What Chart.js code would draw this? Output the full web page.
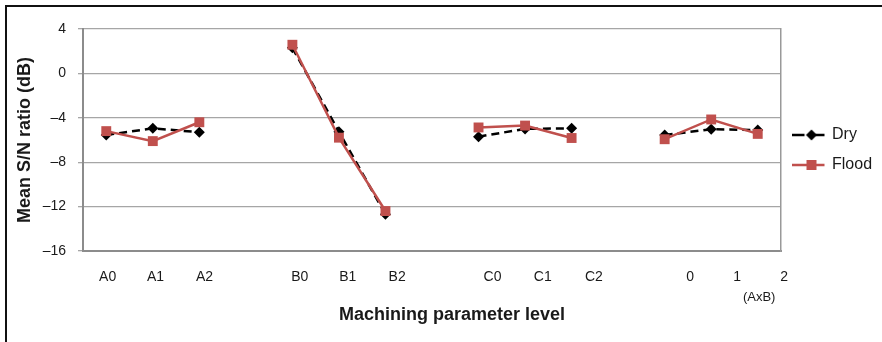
<!DOCTYPE html>
<html>
<head>
<meta charset="utf-8">
<script src="https://cdn.jsdelivr.net/npm/chart.js@4.4.1/dist/chart.umd.min.js"></script>
<style>
  html, body { margin: 0; padding: 0; background: #fff; }
  #wrap { position: relative; width: 882px; height: 342px; overflow: hidden; }
  #frame { position: absolute; left: 5px; top: 5px; width: 900px; height: 360px;
           border-top: 2px solid #111; border-left: 2px solid #111; pointer-events: none; }
</style>
</head>
<body>
<div id="wrap">
  <canvas id="sn" width="882" height="342"></canvas>
  <div id="frame"></div>
</div>
<script>
// factor levels, and the slot each one sits in on the x axis (gaps between factors)
const levels = ["A0", "A1", "A2", "B0", "B1", "B2", "C0", "C1", "C2", "AxB0", "AxB1", "AxB2"];
const levelSlot = [0, 1, 2, 4, 5, 6, 8, 9, 10, 12, 13, 14];
const dry = [-5.55, -4.95, -5.3, 2.3, -5.25, -12.7, -5.7, -5.0, -4.95, -5.55, -5.03, -5.1];
const flood = [-5.2, -6.1, -4.4, 2.58, -5.79, -12.4, -4.87, -4.7, -5.82, -5.93, -4.15, -5.45];

// x tick labels (hand placed in the original, a bit off the points)
const tickText = ["A0", "A1", "A2", "B0", "B1", "B2", "C0", "C1", "C2", "0", "1", "(AxB)", "2"];
const tickSlot = [0.03, 1.06, 2.11, 4.16, 5.19, 6.25, 8.3, 9.38, 10.48, 12.55, 13.56, 14.03, 14.57];

const yTicks = [-16, -12, -8, -4, 0, 4];

const dryCol = "#000000";
const floodCol = "#c0504d";
const textCol = "#1a1a1a";

Chart.defaults.font.family = "'Liberation Sans', Arial, Helvetica, sans-serif";

function toPoints(values) {
    const pts = [];
    for (let s = 0; s <= 14; s++) {
        const i = levelSlot.indexOf(s);
        pts.push({ x: s, y: i >= 0 ? values[i] : null });
    }
    return pts;
}

// little line+marker pictures for the legend
function makeIcon(color, shape, dashed) {
    const c = document.createElement("canvas");
    c.width = 36;
    c.height = 14;
    const g = c.getContext("2d");
    g.strokeStyle = color;
    g.fillStyle = color;
    g.lineWidth = 2.5;
    g.beginPath();
    if (dashed) {
        g.moveTo(0, 7); g.lineTo(13, 7);
        g.moveTo(24, 7); g.lineTo(33, 7);
    } else {
        g.moveTo(0, 7); g.lineTo(33, 7);
    }
    g.stroke();
    if (shape === "diamond") {
        g.beginPath();
        g.moveTo(20, 1.5); g.lineTo(25.5, 7); g.lineTo(20, 12.5); g.lineTo(14.5, 7);
        g.closePath();
        g.fill();
    } else {
        g.fillRect(15, 2, 10, 10);
    }
    return c;
}
const icons = [makeIcon(dryCol, "diamond", true), makeIcon(floodCol, "square", false)];

const ctx = document.getElementById("sn").getContext("2d");
const chart = new Chart(ctx, {
    type: "line",
    data: {
        datasets: [
            {
                label: "Dry",
                data: toPoints(dry),
                borderColor: dryCol,
                backgroundColor: dryCol,
                borderWidth: 2.5,
                borderDash: [8, 5],
                pointStyle: "rectRot",
                pointRadius: 5.5,
                pointBorderWidth: 0,
                tension: 0,
                spanGaps: false,
                order: 2,
            },
            {
                label: "Flood",
                data: toPoints(flood),
                borderColor: floodCol,
                backgroundColor: floodCol,
                borderWidth: 2.5,
                pointStyle: "rect",
                pointRadius: 7,
                pointBorderWidth: 0,
                tension: 0,
                spanGaps: false,
                order: 1,
            },
        ],
    },
    options: {
        responsive: false,
        animation: false,
        layout: { padding: { left: 22, top: 29, right: 0, bottom: 0 } },
        plugins: {
            tooltip: { enabled: false },
            title: {
                display: true,
                position: "bottom",
                text: "Machining parameter level",
                color: textCol,
                font: { size: 18, weight: "bold", lineHeight: 1 },
                padding: { top: -6, bottom: 18 },
            },
            legend: {
                position: "right",
                fullSize: false,
                maxWidth: 101,
                align: "center",
                title: { display: true, text: "", font: { size: 10, lineHeight: 2 }, padding: 0 },
                labels: {
                    usePointStyle: true,
                    pointStyleWidth: 29,
                    padding: 14,
                    color: textCol,
                    font: { size: 16 },
                    generateLabels: (c) => c.data.datasets.map((ds, i) => ({
                        text: ds.label,
                        pointStyle: icons[i],
                        datasetIndex: i,
                        hidden: false,
                        fontColor: textCol,
                        lineWidth: 0,
                        strokeStyle: "transparent",
                        fillStyle: "transparent",
                    })),
                },
            },
        },
        scales: {
            x: {
                type: "linear",
                min: -0.5,
                max: 14.5,
                grid: { display: false, drawTicks: false },
                border: { color: "#8c8c8c", width: 2 },
                afterBuildTicks: (s) => { s.ticks = tickSlot.map((v) => ({ value: v })); },
                afterFit: (s) => { s.height = 61; },
                ticks: {
                    autoSkip: false,
                    maxRotation: 0,
                    padding: 18,
                    color: textCol,
                    font: (c) => tickText[c.index] === "(AxB)" ? { size: 13, lineHeight: 1.45 } : { size: 14 },
                    callback: (v, i) => tickText[i] === "(AxB)" ? ["", "(AxB)"] : tickText[i],
                },
            },
            y: {
                min: -16,
                max: 4,
                afterBuildTicks: (s) => { s.ticks = yTicks.map((v) => ({ value: v })); },
                afterFit: (s) => { s.width = 61; },
                ticks: {
                    padding: 12,
                    color: textCol,
                    font: { size: 14 },
                    callback: (v) => String(v).replace("-", "\u2013"),
                },
                grid: { color: "#a6a6a6", lineWidth: 1.3, tickLength: 5 },
                border: { color: "#8c8c8c", width: 2 },
                title: {
                    display: true,
                    text: "Mean S/N ratio (dB)",
                    color: textCol,
                    font: { size: 18, weight: "bold" },
                    padding: { top: -7.8, bottom: 0 },
                },
            },
            y2: {
                position: "right",
                grid: { display: false, drawTicks: false },
                ticks: { display: false },
                border: { display: true, color: "#999999", width: 1.5 },
                afterFit: (s) => { s.width = 0; },
            },
        },
    },
});
</script>
</body>
</html>
